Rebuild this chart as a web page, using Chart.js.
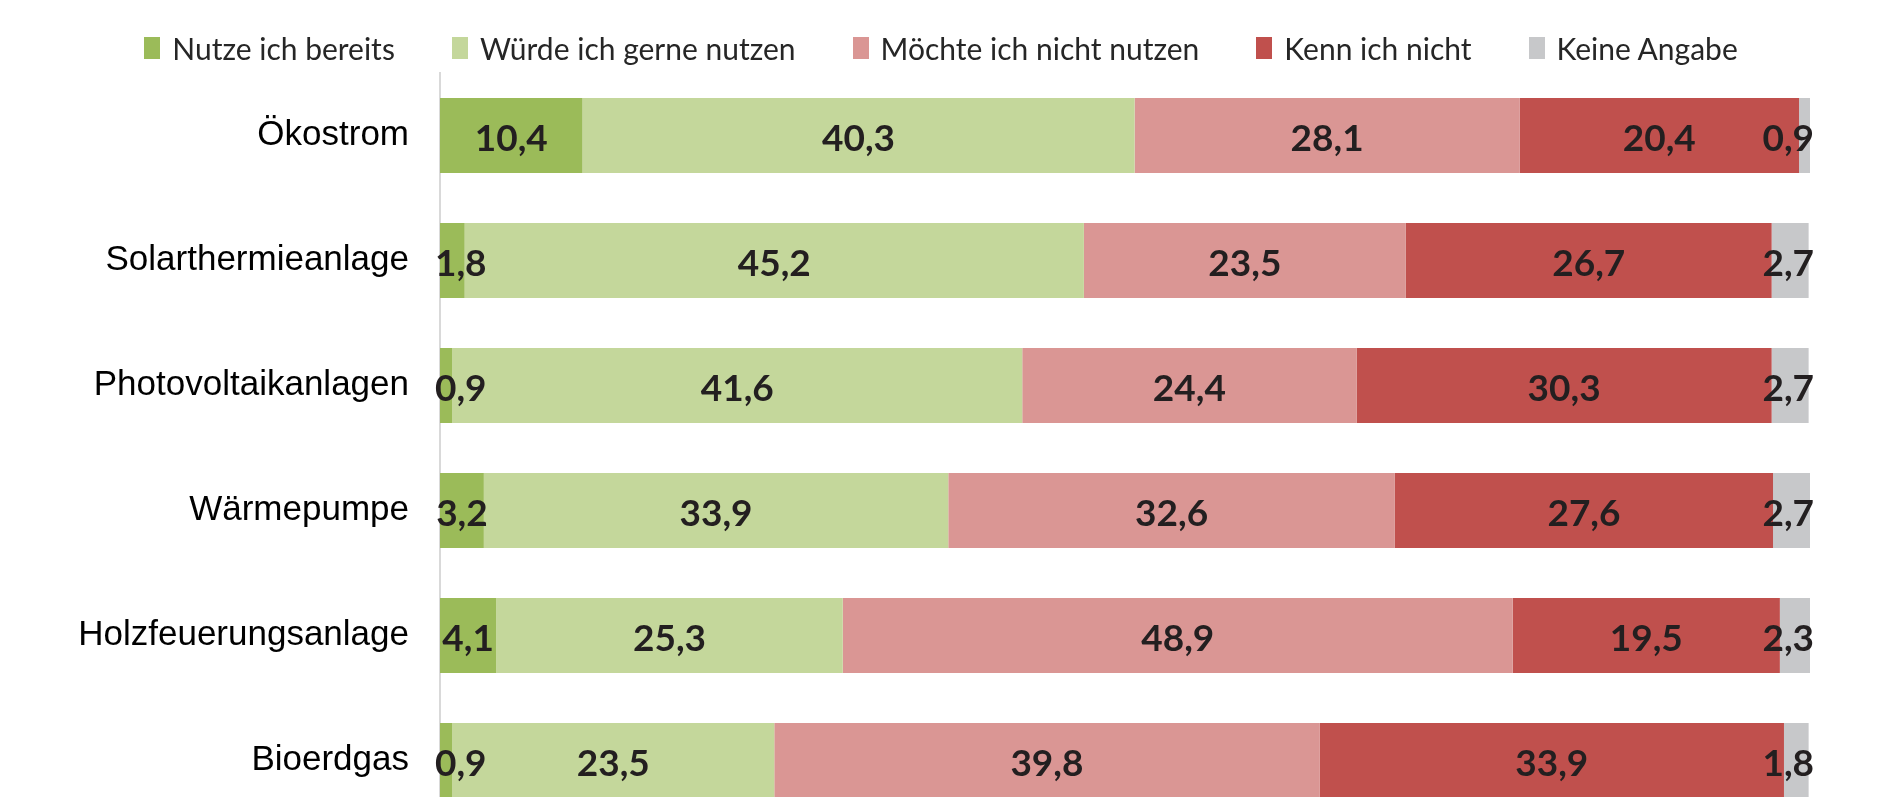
<!DOCTYPE html>
<html>
<head>
<meta charset="utf-8">
<script src="https://cdn.jsdelivr.net/npm/chart.js@4.4.1/dist/chart.umd.min.js"></script>
<style>
  body{margin:0;background:#fff;overflow:hidden;}
  .wrap{position:relative;width:1882px;height:830px;}
  #myChart{position:absolute;top:0;left:0;}
  .legend{position:absolute;top:30px;left:0;width:1882px;display:flex;justify-content:center;gap:57px;
    font-family:Lato,sans-serif;font-size:30px;color:#262626;line-height:36px;z-index:2;}
  .legend span{display:flex;align-items:center;}
  .legend i{display:inline-block;width:16px;height:22px;margin-right:12px;}
</style>
</head>
<body>
<div class="wrap">
  <canvas id="myChart" width="1882" height="830"></canvas>
  <div class="legend" id="legend"></div>
</div>
<script>
const categories = ['Ökostrom', 'Solarthermieanlage', 'Photovoltaikanlagen', 'Wärmepumpe', 'Holzfeuerungsanlage', 'Bioerdgas'];
const seriesNames = ['Nutze ich bereits', 'Würde ich gerne nutzen', 'Möchte ich nicht nutzen', 'Kenn ich nicht', 'Keine Angabe'];
const nutze = [10.4, 1.8, 0.9, 3.2, 4.1, 0.9];
const wuerde = [40.3, 45.2, 41.6, 33.9, 25.3, 23.5];
const moechte = [28.1, 23.5, 24.4, 32.6, 48.9, 39.8];
const kenn = [20.4, 26.7, 30.3, 27.6, 19.5, 33.9];
const keine = [0.9, 2.7, 2.7, 2.7, 2.3, 1.8];
const colors = ['#9BBB59', '#C4D79B', '#DA9694', '#C0504D', '#C7C8CA'];

const allData = [nutze, wuerde, moechte, kenn, keine];

//legend as html on top
const legend = document.getElementById('legend');
seriesNames.forEach((name, i) => {
    const s = document.createElement('span');
    s.innerHTML = '<i style="background:' + colors[i] + '"></i>' + name;
    legend.appendChild(s);
});

//value labels in the middle of each segment
const barLabels = {
    id: 'barLabels',
    afterDatasetsDraw(chart){
        const ctx = chart.ctx;
        const area = chart.chartArea;
        ctx.save();
        ctx.font = 'bold 37px Lato';
        ctx.fillStyle = '#231F20';
        ctx.textAlign = 'center';
        ctx.textBaseline = 'middle';
        chart.data.datasets.forEach((ds, i) => {
            chart.getDatasetMeta(i).data.forEach((bar, j) => {
                const txt = ds.data[j].toFixed(1).replace('.', ',');
                const w = ctx.measureText(txt).width;
                let x = (bar.x + bar.base) / 2;
                if(x - w / 2 < area.left - 5) x = area.left - 5 + w / 2;
                if(x + w / 2 > area.right + 4) x = area.right + 4 - w / 2;
                ctx.fillText(txt, x, bar.y + 4);
            });
        });
        ctx.restore();
    }
};

const ctx = document.getElementById('myChart');

new Chart(ctx, {
    type: 'bar',
    data: {
        labels: categories,
        datasets: allData.map((d, i) => ({
            label: seriesNames[i],
            data: d,
            backgroundColor: colors[i],
            borderWidth: 0,
            categoryPercentage: 1,
            barPercentage: 0.6
        }))
    },
    options: {
        indexAxis: 'y',
        responsive: false,
        animation: false,
        layout: {padding: {top: 73, right: 72, bottom: 7, left: 0}},
        plugins: {
            legend: {display: false},
            tooltip: {enabled: false}
        },
        scales: {
            x: {
                stacked: true,
                min: 0,
                max: 100,
                display: false
            },
            y: {
                stacked: true,
                grid: {drawOnChartArea: false, drawTicks: false},
                border: {display: true, color: '#D9D9D9', width: 2},
                ticks: {
                    padding: 31,
                    color: '#000',
                    font: {family: 'Liberation Sans', size: 35}
                },
                afterFit(scale){
                    // fixed axis width, no extra room for the big labels
                    scale.width = 440;
                    scale.paddingTop = 0;
                    scale.paddingBottom = 0;
                }
            }
        }
    },
    plugins: [barLabels]
});
</script>
</body>
</html>
